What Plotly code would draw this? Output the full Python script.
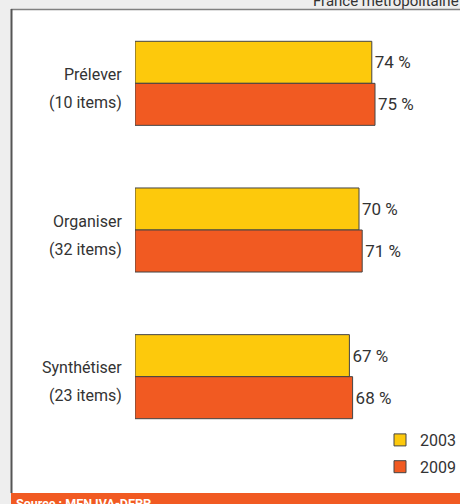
import plotly.graph_objects as go

categories = ["Prélever", "Organiser", "Synthétiser"]
item_counts = ["(10 items)", "(32 items)", "(23 items)"]
years = ["2003", "2009"]
values_2003 = [74, 70, 67]
values_2009 = [75, 71, 68]

COL_2003 = "#FDC90C"
COL_2009 = "#F15A22"
TXT = "#333333"
FONT = "Roboto, Arial, sans-serif"

W, H = 460, 504
ML, MR, MT, MB = 135, 5, 10, 54
PW = W - ML - MR
PH = H - MT - MB


def px_x(p):
    return (p - ML) / PW


def px_y(p):
    return (H - MB - p) / PH


fig = go.Figure()
for name, vals, col in [(years[0], values_2003, COL_2003), (years[1], values_2009, COL_2009)]:
    fig.add_trace(go.Bar(
        y=categories, x=vals, name=name, orientation="h",
        marker=dict(color=col, line=dict(color="#444444", width=1)),
        text=[f"{v} %" for v in vals], textposition="outside",
        textfont=dict(size=17, color=TXT, family=FONT),
        cliponaxis=False, constraintext="none",
        legendgroup=name,
        hoverinfo="skip",
    ))

annotations = []
for cat, it in zip(categories, item_counts):
    annotations.append(dict(x=0, y=cat, xref="x", yref="y", text=cat, showarrow=False,
                            xanchor="right", yanchor="middle", xshift=-11, yshift=9,
                            font=dict(size=16, color=TXT, family=FONT)))
    annotations.append(dict(x=0, y=cat, xref="x", yref="y", text=it, showarrow=False,
                            xanchor="right", yanchor="middle", xshift=-11, yshift=-19,
                            font=dict(size=16, color=TXT, family=FONT)))

annotations.append(dict(x=px_x(311), y=px_y(0.5), xref="paper", yref="paper",
                        text="France métropolitaine", showarrow=False,
                        xanchor="left", yanchor="middle",
                        font=dict(size=15, color=TXT, family=FONT)))
annotations.append(dict(x=px_x(14), y=px_y(494), xref="paper", yref="paper",
                        text="<b>Source : MEN IVA-DEPP</b>", showarrow=False,
                        xanchor="left", yanchor="top",
                        font=dict(size=12.5, color="white", family=FONT)))

shapes = [
    dict(type="rect", xref="paper", yref="paper", layer="below",
         x0=px_x(11), x1=px_x(462), y0=px_y(493), y1=px_y(9.5),
         fillcolor="white", line=dict(width=0)),
    dict(type="line", xref="paper", yref="paper",
         x0=px_x(11), x1=px_x(462), y0=px_y(9.5), y1=px_y(9.5),
         line=dict(color="#808080", width=1.5)),
    dict(type="line", xref="paper", yref="paper",
         x0=px_x(11.5), x1=px_x(11.5), y0=px_y(493), y1=px_y(9),
         line=dict(color="#555555", width=2)),
    dict(type="rect", xref="paper", yref="paper",
         x0=px_x(11), x1=px_x(462), y0=px_y(510), y1=px_y(493),
         fillcolor=COL_2009, line=dict(width=0)),
]

fig.update_layout(
    width=W, height=H,
    margin=dict(l=ML, r=MR, t=MT, b=MB, autoexpand=False),
    paper_bgcolor="#EEEEEE", plot_bgcolor="rgba(0,0,0,0)",
    barmode="group", bargap=0.427, bargroupgap=0,
    xaxis=dict(range=[0, 100], visible=False, fixedrange=True),
    yaxis=dict(range=[2.5, -0.5], showticklabels=False, showgrid=False,
               zeroline=False, showline=False, ticks="", fixedrange=True),
    showlegend=True,
    legend=dict(x=px_x(380), y=px_y(423), xanchor="left", yanchor="top",
                bgcolor="rgba(0,0,0,0)", traceorder="grouped", tracegroupgap=3,
                font=dict(size=16, color=TXT, family=FONT), itemwidth=30),
    annotations=annotations,
    shapes=shapes,
    font=dict(family=FONT, color=TXT),
)

fig.write_html(
    "out.html",
    config={"displayModeBar": False},
    post_script="document.body.style.margin='0';document.documentElement.style.overflow='hidden';document.body.style.overflow='hidden';",
)
